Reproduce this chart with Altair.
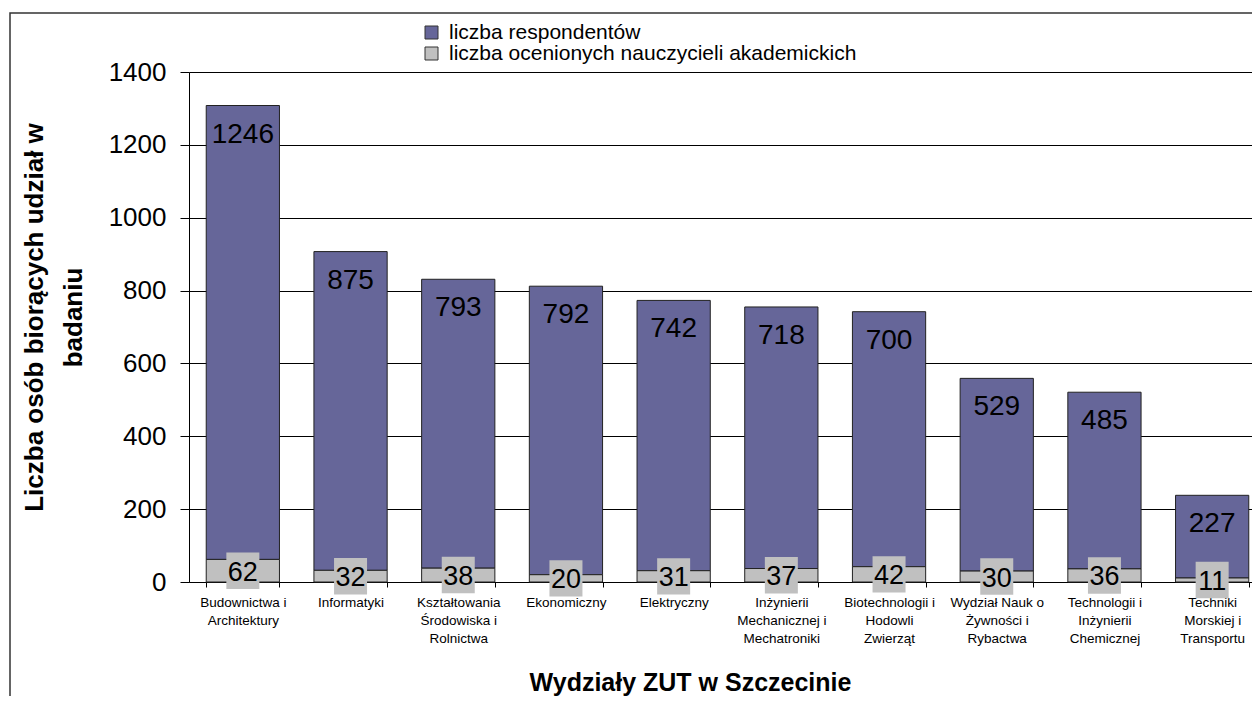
import altair as alt
import pandas as pd

categories = [
    "Budownictwa i|Architektury",
    "Informatyki",
    "Kształtowania|Środowiska i|Rolnictwa",
    "Ekonomiczny",
    "Elektryczny",
    "Inżynierii|Mechanicznej i|Mechatroniki",
    "Biotechnologii i|Hodowli|Zwierząt",
    "Wydział Nauk o|Żywności i|Rybactwa",
    "Technologii i|Inżynierii|Chemicznej",
    "Techniki|Morskiej i|Transportu",
]
respondents = [1246, 875, 793, 792, 742, 718, 700, 529, 485, 227]
teachers = [62, 32, 38, 20, 31, 37, 42, 30, 36, 11]
series_names = ["liczba respondentów", "liczba ocenionych nauczycieli akademickich"]
series_colors = ["#666699", "#C0C0C0"]
y_ticks = [0, 200, 400, 600, 800, 1000, 1200, 1400]
y_title = ["Liczba osób biorących udział w", "badaniu"]
x_title = "Wydziały ZUT w Szczecinie"

FONT = "Liberation Sans"

long_df = pd.DataFrame({
    "cat": categories * 2,
    "series": [series_names[0]] * len(categories) + [series_names[1]] * len(categories),
    "value": respondents + teachers,
    "ord": [1] * len(categories) + [0] * len(categories),
})
wide_df = pd.DataFrame({"cat": categories, "resp": respondents, "naucz": teachers})

x_axis = alt.Axis(
    title=x_title,
    titleFont=FONT, titleFontSize=25, titleFontWeight="bold", titleColor="black",
    titleX=501, titleY=108, titleAlign="center", titleBaseline="alphabetic",
    labelExpr="split(datum.label, '|')",
    labelFont=FONT, labelFontSize=13.5, labelColor="black", labelAngle=0,
    labelLineHeight=18, labelPadding=8, labelLimit=200,
    tickBand="extent", tickSize=5, tickColor="black",
    domainColor="black", grid=False,
)
x_scale = alt.Scale(range=[0, 1077], paddingInner=0.32, paddingOuter=0.16)


def X():
    return alt.X("cat:N", sort=categories, scale=x_scale, axis=x_axis)


y_axis = alt.Axis(
    values=y_ticks, format="d",
    labelFont=FONT, labelFontSize=26, labelColor="black", labelPadding=14,
    tickSize=9, tickColor="black", domainColor="black",
    grid=True, gridColor="black", gridWidth=1, gridOpacity=1,
    titleFont=FONT, titleFontSize=26, titleFontWeight="bold", titleColor="black",
    titleAngle=270, titleX=-168, titleY=245, titleAlign="center",
    titleBaseline="top", titleLineHeight=39,
)
y_scale = alt.Scale(domain=[0, 1400], nice=False)


def Y(field, **kw):
    return alt.Y(field, type="quantitative", scale=y_scale, axis=y_axis, title=y_title, **kw)


border = alt.Chart(pd.DataFrame({"a": [0]})).mark_rect(
    fillOpacity=0, stroke="#333333", strokeWidth=1.5
).encode(
    x=alt.value(-179), x2=alt.value(1150), y=alt.value(-59), y2=alt.value(700)
)

bars = alt.Chart(long_df).mark_bar(stroke="#222222", strokeWidth=1).encode(
    x=X(),
    y=Y("value", stack="zero"),
    color=alt.Color(
        "series:N",
        scale=alt.Scale(domain=series_names, range=series_colors),
        legend=alt.Legend(
            title=None, orient="none", legendX=232, legendY=-50,
            symbolType="square", symbolSize=169, symbolStrokeColor="#333333",
            symbolStrokeWidth=1, symbolOpacity=1,
            labelFont=FONT, labelFontSize=21, labelColor="black",
            labelOffset=7, rowPadding=-1, padding=0, labelLimit=700,
        ),
    ),
    order=alt.Order("ord:Q", sort="ascending"),
)

boxes = alt.Chart(wide_df).transform_calculate(
    lo="datum.naucz / 2 - 50", hi="datum.naucz / 2 + 50"
).mark_bar(width=33, color="#C0C0C0").encode(
    x=X(), y=Y("lo"), y2="hi:Q"
)

gray_labels = alt.Chart(wide_df).transform_calculate(
    mid="datum.naucz / 2"
).mark_text(font=FONT, fontSize=27, color="black", baseline="alphabetic", dy=10).encode(
    x=X(), y=Y("mid"), text="naucz:Q"
)

purple_labels = alt.Chart(wide_df).transform_calculate(
    total="datum.resp + datum.naucz"
).mark_text(font=FONT, fontSize=28, color="black", baseline="alphabetic", dy=37).encode(
    x=X(), y=Y("total"), text="resp:Q"
)

chart = alt.layer(border, bars, boxes, gray_labels, purple_labels).properties(
    width=1063, height=510,
    autosize=alt.AutoSizeParams(type="none"),
    padding={"left": 181, "top": 64, "right": 0, "bottom": 114},
).configure_view(stroke=None).configure(background="white")

chart.save("out.html", embed_options={"renderer": "svg", "actions": False})
